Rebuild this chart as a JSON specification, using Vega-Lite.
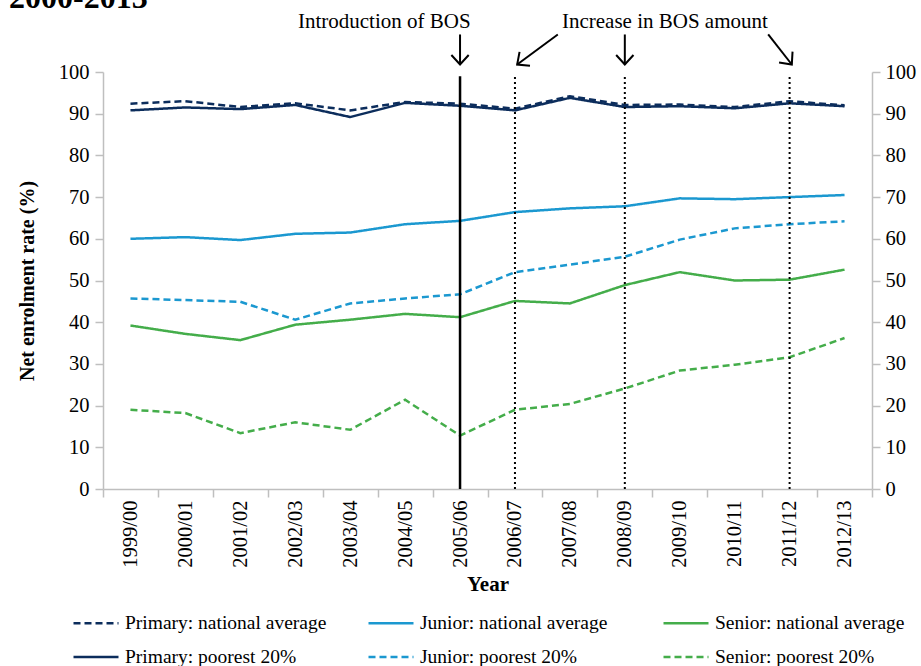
{
  "$schema": "https://vega.github.io/schema/vega-lite/v6.json",
  "width": 769,
  "height": 417,
  "autosize": {"type": "none"},
  "padding": {"left": 103, "top": 72, "right": 49, "bottom": 177},
  "background": "white",
  "config": {
    "font": "Liberation Serif",
    "view": {"stroke": null},
    "axis": {"domainColor": "#bfbfbf", "tickColor": "#bfbfbf", "domainWidth": 1.5, "tickWidth": 1.5, "tickSize": 8, "labelFont": "Liberation Serif", "labelFontSize": 20.5, "labelColor": "#000", "titleFont": "Liberation Serif", "titleFontSize": 20, "titleFontWeight": "bold", "titleColor": "#000", "grid": false},
    "legend": {"orient": "none", "legendX": -31, "legendY": 527, "columns": 3, "direction": "horizontal", "symbolType": "stroke", "symbolSize": 2025, "symbolStrokeWidth": 2.5, "labelFont": "Liberation Serif", "labelFontSize": 19.5, "labelColor": "#000", "labelLimit": 400, "gridAlign": "all", "columnPadding": 36, "rowPadding": 0, "labelOffset": 5}
  },
  "datasets": {
    "enrol": [
      {"year": "1999/00", "Primary: national average": 92.4, "Junior: national average": 60.0, "Senior: national average": 39.2, "Primary: poorest 20%": 90.8, "Junior: poorest 20%": 45.7, "Senior: poorest 20%": 19.0},
      {"year": "2000/01", "Primary: national average": 93.0, "Junior: national average": 60.4, "Senior: national average": 37.2, "Primary: poorest 20%": 91.5, "Junior: poorest 20%": 45.3, "Senior: poorest 20%": 18.2},
      {"year": "2001/02", "Primary: national average": 91.6, "Junior: national average": 59.7, "Senior: national average": 35.7, "Primary: poorest 20%": 91.1, "Junior: poorest 20%": 44.9, "Senior: poorest 20%": 13.4},
      {"year": "2002/03", "Primary: national average": 92.5, "Junior: national average": 61.2, "Senior: national average": 39.4, "Primary: poorest 20%": 92.1, "Junior: poorest 20%": 40.6, "Senior: poorest 20%": 16.0},
      {"year": "2003/04", "Primary: national average": 90.8, "Junior: national average": 61.5, "Senior: national average": 40.6, "Primary: poorest 20%": 89.2, "Junior: poorest 20%": 44.5, "Senior: poorest 20%": 14.2},
      {"year": "2004/05", "Primary: national average": 92.8, "Junior: national average": 63.5, "Senior: national average": 42.0, "Primary: poorest 20%": 92.6, "Junior: poorest 20%": 45.7, "Senior: poorest 20%": 21.4},
      {"year": "2005/06", "Primary: national average": 92.4, "Junior: national average": 64.3, "Senior: national average": 41.2, "Primary: poorest 20%": 91.9, "Junior: poorest 20%": 46.7, "Senior: poorest 20%": 12.8},
      {"year": "2006/07", "Primary: national average": 91.2, "Junior: national average": 66.4, "Senior: national average": 45.1, "Primary: poorest 20%": 90.8, "Junior: poorest 20%": 52.0, "Senior: poorest 20%": 19.0},
      {"year": "2007/08", "Primary: national average": 94.2, "Junior: national average": 67.3, "Senior: national average": 44.5, "Primary: poorest 20%": 93.8, "Junior: poorest 20%": 53.8, "Senior: poorest 20%": 20.4},
      {"year": "2008/09", "Primary: national average": 92.1, "Junior: national average": 67.8, "Senior: national average": 48.9, "Primary: poorest 20%": 91.6, "Junior: poorest 20%": 55.7, "Senior: poorest 20%": 24.1},
      {"year": "2009/10", "Primary: national average": 92.2, "Junior: national average": 69.7, "Senior: national average": 52.0, "Primary: poorest 20%": 91.8, "Junior: poorest 20%": 59.8, "Senior: poorest 20%": 28.4},
      {"year": "2010/11", "Primary: national average": 91.6, "Junior: national average": 69.5, "Senior: national average": 50.0, "Primary: poorest 20%": 91.3, "Junior: poorest 20%": 62.5, "Senior: poorest 20%": 29.8},
      {"year": "2011/12", "Primary: national average": 93.0, "Junior: national average": 70.0, "Senior: national average": 50.2, "Primary: poorest 20%": 92.5, "Junior: poorest 20%": 63.5, "Senior: poorest 20%": 31.6},
      {"year": "2012/13", "Primary: national average": 92.0, "Junior: national average": 70.5, "Senior: national average": 52.6, "Primary: poorest 20%": 91.8, "Junior: poorest 20%": 64.2, "Senior: poorest 20%": 36.2}
    ],
    "events": [
      {"year": "2005/06", "event": "Introduction of BOS"},
      {"year": "2006/07", "event": "Increase in BOS amount"},
      {"year": "2008/09", "event": "Increase in BOS amount"},
      {"year": "2011/12", "event": "Increase in BOS amount"}
    ],
    "arrows": [
      {"id": 1, "x0": 6, "y0": 109, "x1": 6, "y1": 101.8},
      {"id": 2, "x0": 7.78, "y0": 109, "x1": 7.04, "y1": 101.8},
      {"id": 3, "x0": 9, "y0": 109, "x1": 9, "y1": 101.8},
      {"id": 4, "x0": 11.61, "y0": 109, "x1": 12.04, "y1": 101.8}
    ],
    "notes": [
      {"label": "Introduction of BOS", "x": 4.62, "y": 110.5, "kind": "note"},
      {"label": "Increase in BOS amount", "x": 9.73, "y": 110.5, "kind": "note"}
    ],
    "heading": [
      {"label": "2000-2013", "x": -2.21, "y": 115.4}
    ]
  },
  "layer": [
    {
      "layer": [
        {
          "data": {"name": "enrol"},
          "transform": [{"fold": ["Primary: national average", "Junior: national average", "Senior: national average", "Primary: poorest 20%", "Junior: poorest 20%", "Senior: poorest 20%"], "as": ["series", "value"]}],
          "mark": {"type": "line", "strokeWidth": 2.5},
          "encoding": {
            "x": {"field": "year", "type": "nominal", "bandPosition": 0.5, "scale": {"type": "band", "paddingInner": 0, "paddingOuter": 0}, "axis": {"title": "Year", "labelAngle": -90, "tickBand": "extent", "labelPadding": 3, "titlePadding": 6, "titleFontSize": 21}},
            "y": {"field": "value", "type": "quantitative", "scale": {"domain": [0, 100], "nice": false}, "axis": {"title": "Net enrolment rate (%)", "values": [0, 10, 20, 30, 40, 50, 60, 70, 80, 90, 100], "labelPadding": 6, "titlePadding": 21}},
            "color": {"field": "series", "type": "nominal", "scale": {"domain": ["Primary: national average", "Junior: national average", "Senior: national average", "Primary: poorest 20%", "Junior: poorest 20%", "Senior: poorest 20%"], "range": ["#0c2d5c", "#1b98d0", "#44ad4a", "#0c2d5c", "#1b98d0", "#44ad4a"]}, "legend": {"title": null}},
            "strokeDash": {"field": "series", "type": "nominal", "scale": {"domain": ["Primary: national average", "Junior: national average", "Senior: national average", "Primary: poorest 20%", "Junior: poorest 20%", "Senior: poorest 20%"], "range": [[7, 4], [1, 0], [1, 0], [1, 0], [7, 4], [7, 4]]}, "legend": {"title": null}}
          }
        },
        {
          "data": {"name": "events"},
          "transform": [{"filter": "datum.event === 'Introduction of BOS'"}],
          "mark": {"type": "rule", "stroke": "#000", "strokeWidth": 2.5},
          "encoding": {
            "x": {"field": "year", "type": "nominal", "bandPosition": 0.5, "scale": {"type": "band", "paddingInner": 0, "paddingOuter": 0}},
            "y": {"datum": 0, "type": "quantitative"},
            "y2": {"datum": 99}
          }
        },
        {
          "data": {"name": "events"},
          "transform": [{"filter": "datum.event === 'Increase in BOS amount'"}],
          "mark": {"type": "rule", "stroke": "#000", "strokeWidth": 2, "strokeDash": [2, 3]},
          "encoding": {
            "x": {"field": "year", "type": "nominal", "bandPosition": 0.5, "scale": {"type": "band", "paddingInner": 0, "paddingOuter": 0}},
            "y": {"datum": 0, "type": "quantitative"},
            "y2": {"datum": 99}
          }
        }
      ]
    },
    {
      "layer": [
        {
          "data": {"name": "arrows"},
          "mark": {"type": "rule", "stroke": "#000", "strokeWidth": 2},
          "encoding": {
            "x": {"field": "x0", "type": "quantitative", "scale": {"domain": [-0.5, 13.5], "nice": false, "zero": false}, "axis": null},
            "y": {"field": "y0", "type": "quantitative", "scale": {"domain": [0, 100], "nice": false}, "axis": {"orient": "right", "title": null, "values": [0, 10, 20, 30, 40, 50, 60, 70, 80, 90, 100], "labelPadding": 5}},
            "x2": {"field": "x1"},
            "y2": {"field": "y1"}
          }
        },
        {
          "data": {"name": "arrows"},
          "transform": [{"filter": "datum.id === 1 || datum.id === 3"}],
          "mark": {"type": "point", "shape": "M-1,-1.1L0,0L1,-1.1", "size": 300, "filled": false, "stroke": "#000", "strokeWidth": 2, "opacity": 1},
          "encoding": {
            "x": {"field": "x1", "type": "quantitative"},
            "y": {"field": "y1", "type": "quantitative"}
          }
        },
        {
          "data": {"name": "arrows"},
          "transform": [{"filter": "datum.id === 2"}],
          "mark": {"type": "point", "shape": "M-1,-1.1L0,0L1,-1.1", "size": 300, "filled": false, "stroke": "#000", "strokeWidth": 2, "opacity": 1, "angle": 53},
          "encoding": {
            "x": {"field": "x1", "type": "quantitative"},
            "y": {"field": "y1", "type": "quantitative"}
          }
        },
        {
          "data": {"name": "arrows"},
          "transform": [{"filter": "datum.id === 4"}],
          "mark": {"type": "point", "shape": "M-1,-1.1L0,0L1,-1.1", "size": 300, "filled": false, "stroke": "#000", "strokeWidth": 2, "opacity": 1, "angle": -39},
          "encoding": {
            "x": {"field": "x1", "type": "quantitative"},
            "y": {"field": "y1", "type": "quantitative"}
          }
        },
        {
          "data": {"name": "notes"},
          "mark": {"type": "text", "align": "center", "baseline": "alphabetic", "fontSize": 21, "font": "Liberation Serif", "color": "#000"},
          "encoding": {
            "x": {"field": "x", "type": "quantitative"},
            "y": {"field": "y", "type": "quantitative"},
            "text": {"field": "label"}
          }
        },
        {
          "data": {"name": "heading"},
          "mark": {"type": "text", "align": "left", "baseline": "alphabetic", "fontSize": 32, "fontWeight": "bold", "font": "Liberation Serif", "color": "#000"},
          "encoding": {
            "x": {"field": "x", "type": "quantitative"},
            "y": {"field": "y", "type": "quantitative"},
            "text": {"field": "label"}
          }
        }
      ]
    }
  ],
  "resolve": {"scale": {"x": "independent"}, "axis": {"x": "independent", "y": "independent"}}
}
